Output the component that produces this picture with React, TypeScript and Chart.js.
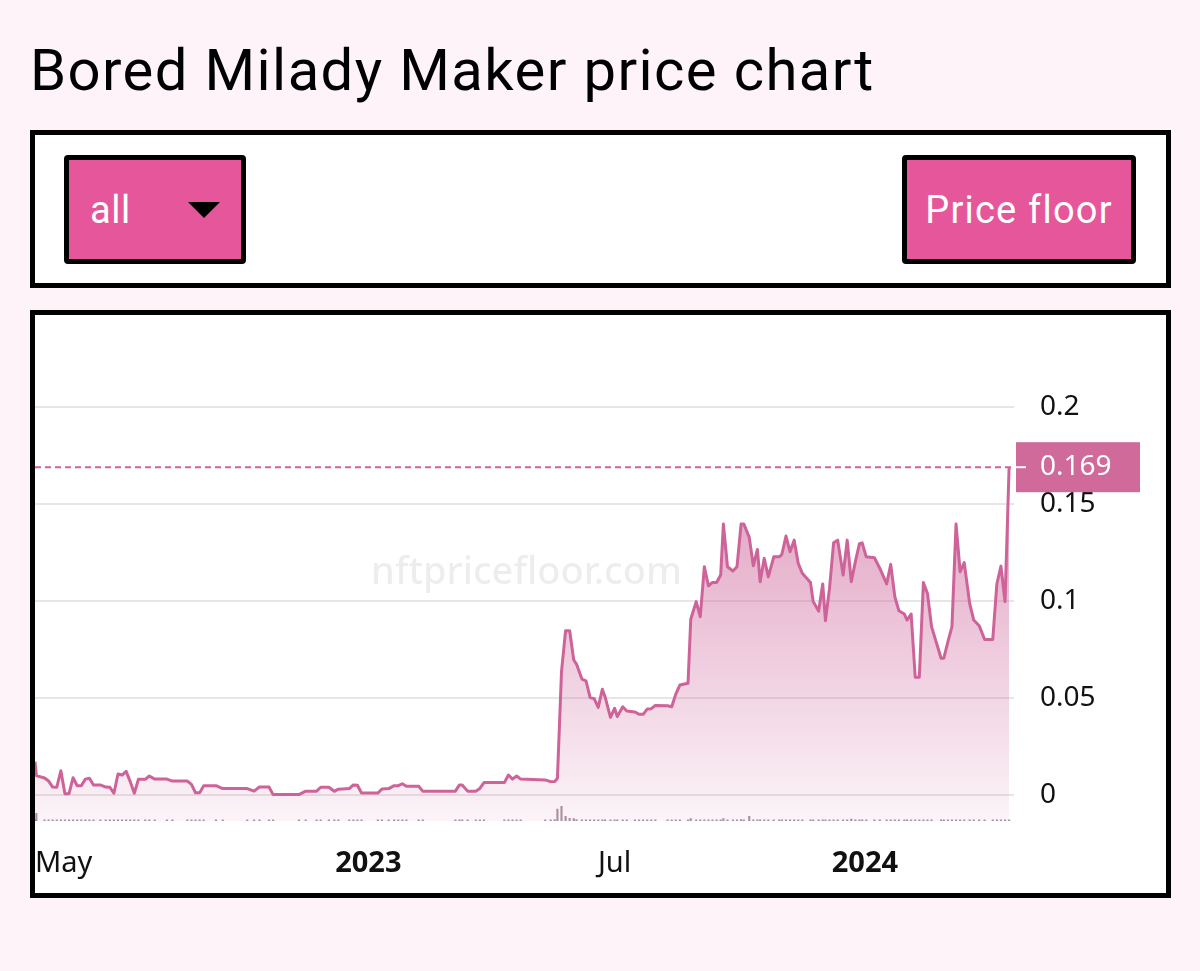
import React, { useEffect, useRef } from "react";
import { Chart, registerables } from "chart.js";

Chart.register(...registerables);

const TITLE = "Bored Milady Maker price chart";
const RANGE_LABEL = "all";
const METRIC_LABEL = "Price floor";
const WATERMARK = "nftpricefloor.com";

const START_DATE = "2022-05-01";
const X_MAX_DAY = 719.6;

// days since START_DATE
const dayOffsets = [
  0, 1, 7, 10, 13, 16, 19, 22, 25, 28,
  31, 34, 37, 40, 43, 48, 52, 55, 58, 61,
  64, 67, 70, 73, 76, 81, 84, 88, 97, 101,
  112, 115, 118, 121, 124, 133, 138, 156, 161, 165,
  172, 175, 194, 199, 207, 210, 216, 220, 223, 231,
  234, 237, 240, 252, 255, 260, 264, 267, 270, 273,
  282, 285, 309, 312, 314, 318, 324, 327, 330, 345,
  348, 351, 354, 357, 375, 379, 382, 384, 387, 390,
  393, 396, 398, 402, 405, 408, 411, 414, 417, 419,
  423, 426, 428, 432, 435, 441, 444, 447, 450, 453,
  456, 465, 468, 471, 474, 480, 482, 486, 489, 492,
  495, 498, 501, 504, 506, 509, 513, 516, 519, 521,
  525, 528, 531, 533, 536, 539, 543, 547, 549, 552,
  555, 558, 561, 564, 570, 572, 576, 579, 581, 584,
  587, 590, 594, 597, 600, 603, 606, 608, 611, 617,
  621, 626, 629, 632, 635, 639, 641, 644, 647, 650,
  653, 656, 659, 666, 668, 671, 674, 677, 680, 683,
  687, 690, 694, 698, 704, 707, 710, 713, 716,
];

// floor price (ETH)
const floorPrices = [
  0.0172, 0.010, 0.0088, 0.0072, 0.0041, 0.004, 0.0125, 0.0007, 0.0007, 0.0089,
  0.0048, 0.0048, 0.0082, 0.0086, 0.0052, 0.0052, 0.0041, 0.004, 0.0009, 0.0108,
  0.0103, 0.0122, 0.0069, 0.0009, 0.0081, 0.0081, 0.0098, 0.0082, 0.0082, 0.0072,
  0.0072, 0.0055, 0.0011, 0.0011, 0.0048, 0.0048, 0.0033, 0.0033, 0.002, 0.0041,
  0.0041, 0.0002, 0.0002, 0.002, 0.002, 0.004, 0.004, 0.0019, 0.003, 0.0033,
  0.0052, 0.005, 0.001, 0.001, 0.0031, 0.0033, 0.0048, 0.0048, 0.0058, 0.0045,
  0.0045, 0.002, 0.002, 0.0052, 0.0052, 0.002, 0.002, 0.0034, 0.0064, 0.0064,
  0.0103, 0.0082, 0.0098, 0.0082, 0.0078, 0.0069, 0.007, 0.0086, 0.0636, 0.0847,
  0.0847, 0.0696, 0.0675, 0.0598, 0.0589, 0.0503, 0.0497, 0.0452, 0.0545, 0.0507,
  0.040, 0.0447, 0.0404, 0.0455, 0.0433, 0.0428, 0.0416, 0.0416, 0.0443, 0.0445,
  0.0462, 0.046, 0.0455, 0.052, 0.0567, 0.0576, 0.0906, 0.0997, 0.0919, 0.1177,
  0.1079, 0.1096, 0.1096, 0.1134, 0.1397, 0.1177, 0.1155, 0.1177, 0.1397, 0.1397,
  0.1328, 0.1182, 0.1266, 0.110, 0.122, 0.1125, 0.1228, 0.1228, 0.1241, 0.1335,
  0.1254, 0.1314, 0.1194, 0.1143, 0.1096, 0.0997, 0.0948, 0.1088, 0.0899, 0.1065,
  0.130, 0.1314, 0.1134, 0.1314, 0.110, 0.1203, 0.1296, 0.130, 0.1228, 0.1223,
  0.1168, 0.1088, 0.1189, 0.1022, 0.095, 0.0933, 0.0902, 0.0933, 0.0607, 0.0607,
  0.1095, 0.1039, 0.0868, 0.0705, 0.0705, 0.079, 0.0868, 0.1397, 0.1151, 0.1198,
  0.0988, 0.0902, 0.0873, 0.0802, 0.0802, 0.1088, 0.118, 0.0997, 0.169,
];

// traded volume (relative units)
const volumes = [
  0.15, 1.0, 0.15, 0.15, 0.15, 0.15, 0.15, 0.15, 0.15, 0.15,
  0.15, 0.15, 0.15, 0.15, 0.15, 0.15, 0.15, 0.15, 0.15, 0.15,
  0.15, 0.15, 0.15, 0.15, 0.15, 0.15, 0.15, 0.15, 0.15, 0.15,
  0.15, 0.15, 0.15, 0.15, 0.15, 0.15, 0.15, 0.15, 0.15, 0.15,
  0.15, 0.15, 0.15, 0.15, 0.15, 0.15, 0.15, 0.15, 0.15, 0.15,
  0.15, 0.15, 0.15, 0.15, 0.15, 0.15, 0.15, 0.15, 0.15, 0.15,
  0.15, 0.15, 0.15, 0.15, 0.15, 0.15, 0.15, 0.15, 0.15, 0.15,
  0.15, 0.15, 0.15, 0.15, 0.15, 0.15, 0.2, 1.55, 1.9, 0.6,
  0.35, 0.3, 0.2, 0.15, 0.15, 0.15, 0.15, 0.15, 0.15, 0.15,
  0.15, 0.15, 0.15, 0.15, 0.15, 0.15, 0.15, 0.15, 0.15, 0.15,
  0.15, 0.15, 0.15, 0.15, 0.15, 0.15, 0.3, 0.15, 0.15, 0.15,
  0.15, 0.15, 0.15, 0.15, 0.3, 0.15, 0.15, 0.15, 0.2, 0.15,
  0.6, 0.15, 0.15, 0.15, 0.15, 0.15, 0.15, 0.15, 0.15, 0.15,
  0.15, 0.15, 0.15, 0.15, 0.15, 0.15, 0.15, 0.15, 0.15, 0.15,
  0.15, 0.15, 0.15, 0.15, 0.25, 0.15, 0.15, 0.15, 0.15, 0.15,
  0.15, 0.15, 0.15, 0.15, 0.15, 0.15, 0.15, 0.15, 0.15, 0.15,
  0.15, 0.15, 0.15, 0.15, 0.15, 0.15, 0.15, 0.15, 0.15, 0.15,
  0.15, 0.15, 0.15, 0.15, 0.15, 0.15, 0.15, 0.15, 0.15,
];

const yTickValues = [0, 0.05, 0.1, 0.15, 0.2];
const xTickDates = ["2022-05-01", "2023-01-01", "2023-07-01", "2024-01-01"];
const xTickLabels = ["May", "2023", "Jul", "2024"];
const xTickBold = [false, true, false, true];
const LAST_PRICE_LABEL = "0.169";

const LINE_COLOR = "#cd6399";
const BOX_COLOR = "#cf6a9a";
const BUTTON_COLOR = "#e5579a";
const PAGE_BG = "#fff3fa";
const AXIS_FONT = '"Noto Sans", "Open Sans", sans-serif';

export default function App() {
  const canvasRef = useRef<HTMLCanvasElement | null>(null);

  useEffect(() => {
    const canvas = canvasRef.current;
    if (!canvas) return;
    const startMs = Date.parse(START_DATE);
    const toDay = (d: string) => (Date.parse(d) - startMs) / 86400000;
    const pricePoints = dayOffsets.map((d, i) => ({ x: d, y: floorPrices[i] }));
    const volumePoints = dayOffsets.map((d, i) => ({ x: d, y: volumes[i] }));
    const lastPrice = floorPrices[floorPrices.length - 1];

    const overlay = {
      id: "overlay",
      beforeDatasetsDraw(chart: any) {
        const { ctx, chartArea: ca, scales } = chart;
        ctx.save();
        ctx.font = `500 38px ${AXIS_FONT}`;
        ctx.fillStyle = "rgba(0,0,0,0.07)";
        ctx.textAlign = "center";
        ctx.textBaseline = "middle";
        const midY = (scales.y.getPixelForValue(0) + scales.y.getPixelForValue(0.2)) / 2 - 28;
        ctx.fillText(WATERMARK, (ca.left + ca.right) / 2 + 2, midY);
        ctx.restore();
      },
      afterDraw(chart: any) {
        const { ctx, chartArea: ca, scales } = chart;
        const y = scales.y.getPixelForValue(lastPrice);
        ctx.save();
        ctx.strokeStyle = LINE_COLOR;
        ctx.lineWidth = 2;
        ctx.setLineDash([6, 4]);
        ctx.beginPath();
        ctx.moveTo(ca.left, y);
        ctx.lineTo(ca.right, y);
        ctx.stroke();
        ctx.setLineDash([]);
        ctx.fillStyle = BOX_COLOR;
        ctx.fillRect(ca.right + 2, y - 25, 124, 50);
        ctx.strokeStyle = "#ffffff";
        ctx.beginPath();
        ctx.moveTo(ca.right + 2, y);
        ctx.lineTo(ca.right + 12, y);
        ctx.stroke();
        ctx.fillStyle = "#ffffff";
        ctx.font = `28px ${AXIS_FONT}`;
        ctx.textAlign = "left";
        ctx.textBaseline = "middle";
        ctx.fillText(LAST_PRICE_LABEL, ca.right + 26, y);

        ctx.fillStyle = "#111111";
        ctx.textBaseline = "alphabetic";
        xTickDates.forEach((d, i) => {
          const px = scales.x.getPixelForValue(toDay(d));
          ctx.font = `${xTickBold[i] ? "bold " : ""}29px ${AXIS_FONT}`;
          const w = ctx.measureText(xTickLabels[i]).width;
          let left = px - w / 2;
          if (left < ca.left) left = ca.left;
          ctx.fillText(xTickLabels[i], left, ca.bottom + 51);
        });
        ctx.restore();
      },
    };

    const chart = new Chart(canvas, {
      type: "line",
      data: {
        datasets: [
          {
            type: "line",
            data: pricePoints,
            borderColor: LINE_COLOR,
            borderWidth: 3,
            borderJoinStyle: "round",
            pointRadius: 0,
            tension: 0,
            fill: "start",
            yAxisID: "y",
            backgroundColor: (c: any) => {
              const ch = c.chart;
              const ca = ch.chartArea;
              if (!ca) return "rgba(205,99,153,0.3)";
              const top = ch.scales.y.getPixelForValue(lastPrice);
              const g = ch.ctx.createLinearGradient(0, top, 0, ca.bottom);
              g.addColorStop(0, "rgba(205,99,153,0.62)");
              g.addColorStop(1, "rgba(205,99,153,0.07)");
              return g;
            },
            order: 1,
          } as any,
          {
            type: "bar",
            data: volumePoints,
            backgroundColor: "rgba(120,90,110,0.65)",
            barThickness: 1.5,
            yAxisID: "y2",
            order: 2,
          } as any,
        ],
      },
      options: {
        responsive: false,
        animation: false,
        events: [],
        layout: { padding: 0 },
        plugins: { legend: { display: false }, tooltip: { enabled: false } },
        scales: {
          x: {
            type: "linear",
            offset: false,
            min: 0,
            max: X_MAX_DAY,
            ticks: { display: false },
            grid: { display: false, offset: false },
            border: { display: false },
            afterFit: (axis: any) => {
              axis.height = 72;
            },
          },
          y: {
            type: "linear",
            position: "right",
            min: -0.0134,
            max: 0.2254,
            afterBuildTicks: (axis: any) => {
              axis.ticks = yTickValues.map((v) => ({ value: v }));
            },
            afterFit: (axis: any) => {
              axis.width = 152;
            },
            ticks: {
              padding: 26,
              color: "#111111",
              font: { family: AXIS_FONT, size: 28 },
              callback: (v: any) => String(v),
            },
            grid: { color: "#e6e6e8", lineWidth: 2, drawTicks: false },
            border: { display: false },
          },
          y2: {
            type: "linear",
            display: false,
            min: 0,
            max: 60,
          },
        },
      },
      plugins: [overlay],
    } as any);

    return () => chart.destroy();
  }, []);

  const buttonBase: React.CSSProperties = {
    position: "absolute",
    top: 155,
    height: 109,
    boxSizing: "border-box",
    border: "5px solid #000",
    borderRadius: 4,
    background: BUTTON_COLOR,
    color: "#fff",
    fontFamily: "Roboto, sans-serif",
    fontSize: 38,
    display: "flex",
    alignItems: "center",
  };

  return (
    <div
      style={{
        position: "fixed",
        left: 0,
        top: 0,
        width: 1200,
        height: 971,
        background: PAGE_BG,
        overflow: "hidden",
      }}
    >
      <div
        style={{
          position: "absolute",
          left: 30,
          top: 41,
          fontFamily: "Roboto, sans-serif",
          fontSize: 58,
          lineHeight: "58px",
          letterSpacing: 1.4,
          color: "#000",
          whiteSpace: "nowrap",
        }}
      >
        {TITLE}
      </div>

      <div
        style={{
          position: "absolute",
          left: 30,
          top: 130,
          width: 1141,
          height: 158,
          boxSizing: "border-box",
          border: "5px solid #000",
          background: "#fff",
        }}
      />
      <div style={{ ...buttonBase, left: 64, width: 182, paddingLeft: 21, letterSpacing: 0.5 }}>
        {RANGE_LABEL}
        <div
          style={{
            position: "absolute",
            left: 119,
            top: 42,
            width: 0,
            height: 0,
            borderLeft: "16px solid transparent",
            borderRight: "16px solid transparent",
            borderTop: "16px solid #000",
          }}
        />
      </div>
      <div style={{ ...buttonBase, left: 902, width: 234, justifyContent: "center", letterSpacing: 1.2 }}>
        {METRIC_LABEL}
      </div>

      <div
        style={{
          position: "absolute",
          left: 30,
          top: 310,
          width: 1141,
          height: 588,
          boxSizing: "border-box",
          border: "5px solid #000",
          background: "#fff",
        }}
      >
        <canvas
          ref={canvasRef}
          width={1131}
          height={578}
          style={{ display: "block", width: 1131, height: 578 }}
        />
      </div>
    </div>
  );
}
